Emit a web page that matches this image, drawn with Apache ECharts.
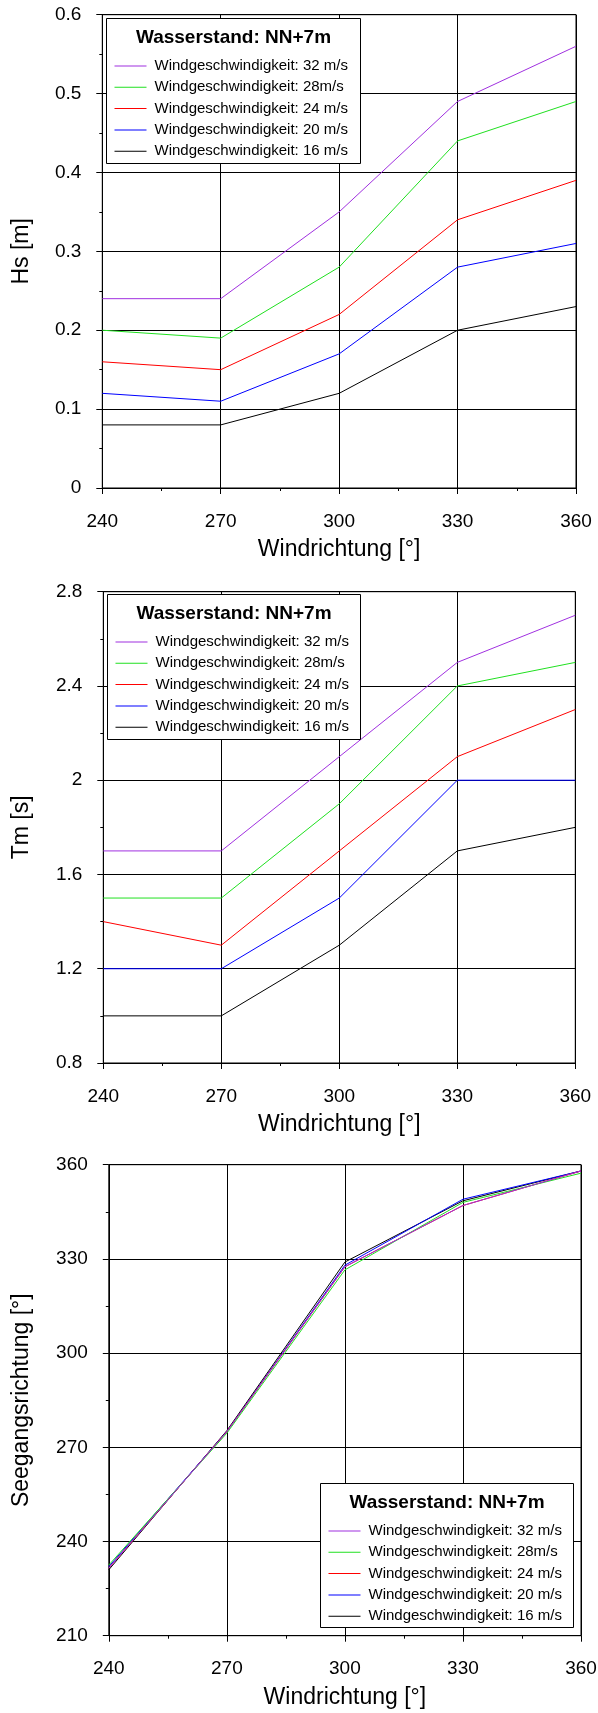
<!DOCTYPE html>
<html><head><meta charset="utf-8">
<script src="https://cdn.jsdelivr.net/npm/echarts@6/dist/echarts.min.js"></script>
<style>html,body{margin:0;padding:0;background:#fff}#c{width:598px;height:1713px}</style>
</head><body><div id="c"></div>
<script>
// ---- data ----
const windDirections = [240, 270, 300, 330, 360];
const seriesNames = ['Windgeschwindigkeit: 32 m/s', 'Windgeschwindigkeit: 28m/s', 'Windgeschwindigkeit: 24 m/s', 'Windgeschwindigkeit: 20 m/s', 'Windgeschwindigkeit: 16 m/s'];
const seriesColors = ['#a030e0', '#20e020', '#ff0000', '#0000ff', '#000000'];
const legendTitle = 'Wasserstand: NN+7m';
const xAxisName = 'Windrichtung [°]';

// Hs [m]
const hs32 = [0.24, 0.24, 0.35, 0.49, 0.56];
const hs28 = [0.20, 0.19, 0.28, 0.44, 0.49];
const hs24 = [0.16, 0.15, 0.22, 0.34, 0.39];
const hs20 = [0.12, 0.11, 0.17, 0.28, 0.31];
const hs16 = [0.08, 0.08, 0.12, 0.20, 0.23];

// Tm [s]
const tm32 = [1.7, 1.7, 2.1, 2.5, 2.7];
const tm28 = [1.5, 1.5, 1.9, 2.4, 2.5];
const tm24 = [1.4, 1.3, 1.7, 2.1, 2.3];
const tm20 = [1.2, 1.2, 1.5, 2.0, 2.0];
const tm16 = [1.0, 1.0, 1.3, 1.7, 1.8];

// Seegangsrichtung [°]
const dir32 = [231.5, 275, 327.5, 347, 358];
const dir28 = [232.5, 274.5, 326.5, 348, 357.3];
const dir24 = [231.5, 275, 327.5, 347, 358];
const dir20 = [232, 275, 328, 349, 358];
const dir16 = [231, 275.3, 329, 348.5, 358];

// ---- layout / style ----
const FONT = '"Liberation Sans", Arial, Helvetica, sans-serif';
const panels = [
  { grid: {left: 102.3, top: 14.7, width: 473.7, height: 473.3},
    y: {min: 0, max: 0.6, interval: 0.1, name: 'Hs [m]', nameGap: 69},
    data: [hs32, hs28, hs24, hs20, hs16],
    box: {x: 106.5, y: 18.5, w: 254, h: 145} },
  { grid: {left: 103.3, top: 591.7, width: 472, height: 471.3},
    y: {min: 0.8, max: 2.8, interval: 0.4, name: 'Tm [s]', nameGap: 70},
    data: [tm32, tm28, tm24, tm20, tm16],
    box: {x: 107.5, y: 594.5, w: 253, h: 145} },
  { grid: {left: 108.8, top: 1164.7, width: 472.2, height: 471},
    y: {min: 210, max: 360, interval: 30, name: 'Seegangsrichtung [°]', nameGap: 76},
    data: [dir32, dir28, dir24, dir20, dir16],
    box: {x: 320.5, y: 1483.5, w: 253, h: 144} }
];

function axisCommon() {
  return {
    axisLine: {show: true, onZero: false, lineStyle: {color: '#000', width: 1}},
    axisTick: {show: true, inside: false, length: 6, lineStyle: {color: '#000', width: 1}},
    minorTick: {show: true, splitNumber: 2, length: 3, lineStyle: {color: '#000', width: 1}},
    splitLine: {show: true, lineStyle: {color: '#000', width: 1}},
    minorSplitLine: {show: false},
    axisLabel: {color: '#000', fontSize: 19, fontFamily: FONT},
    nameTextStyle: {color: '#000', fontSize: 23, fontFamily: FONT},
    nameLocation: 'middle'
  };
}

const option = {
  animation: false,
  backgroundColor: '#fff',
  textStyle: {fontFamily: FONT},
  grid: [], xAxis: [], yAxis: [], series: [], legend: [], graphic: []
};

panels.forEach((p, i) => {
  option.grid.push(Object.assign({show: true, borderColor: '#000', borderWidth: 1, backgroundColor: 'transparent', containLabel: false, outerBoundsMode: 'none'}, p.grid));
  option.xAxis.push(Object.assign(axisCommon(), {
    type: 'value', gridIndex: i, min: 240, max: 360, interval: 30,
    name: xAxisName, nameGap: 50,
    axisLabel: {color: '#000', fontSize: 19, fontFamily: FONT, margin: 24}
  }));
  option.yAxis.push(Object.assign(axisCommon(), {
    type: 'value', gridIndex: i, min: p.y.min, max: p.y.max, interval: p.y.interval,
    name: p.y.name, nameGap: p.y.nameGap, nameRotate: 90,
    axisLabel: {color: '#000', fontSize: 19, fontFamily: FONT, margin: 21}
  }));
  p.data.forEach((vals, k) => {
    option.series.push({
      type: 'line', name: seriesNames[k], xAxisIndex: i, yAxisIndex: i,
      data: windDirections.map((x, j) => [x, vals[j]]),
      symbol: 'none', showSymbol: false, silent: true,
      lineStyle: {color: seriesColors[k], width: 1},
      itemStyle: {color: seriesColors[k]},
      z: 2 + (4 - k)
    });
  });
  const b = p.box;
  option.graphic.push({
    type: 'rect', z: 50, silent: true,
    shape: {x: b.x, y: b.y, width: b.w, height: b.h},
    style: {fill: '#fff', stroke: '#000', lineWidth: 1}
  });
  option.graphic.push({
    type: 'text', z: 51, silent: true,
    style: {text: legendTitle, x: b.x + b.w / 2, y: b.y + 19.5, align: 'center', verticalAlign: 'middle', textAlign: 'center', textVerticalAlign: 'middle',
            fontSize: 19, fontWeight: 'bold', fontFamily: FONT, fill: '#000'}
  });
  option.legend.push({
    show: true, orient: 'vertical', left: b.x + 8, top: b.y + 40,
    icon: 'rect', itemWidth: 32, itemHeight: 1, itemGap: 6.3, padding: 0,
    data: seriesNames, selectedMode: false, z: 60,
    textStyle: {fontSize: 15, color: '#000', fontFamily: FONT, padding: [0, 0, 0, 3]}
  });
});

const chart = echarts.init(document.getElementById('c'), null, {renderer: 'canvas'});
chart.setOption(option);
</script>
</body></html>
